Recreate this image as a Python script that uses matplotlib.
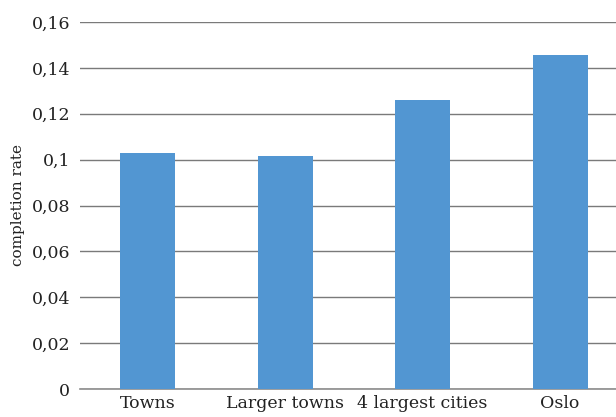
import matplotlib
matplotlib.use("Agg")
import matplotlib.pyplot as plt

categories = ["Towns", "Larger towns", "4 largest cities", "Oslo"]
values = [0.103, 0.1017, 0.126, 0.1456]
yticks = [0, 0.02, 0.04, 0.06, 0.08, 0.1, 0.12, 0.14, 0.16]
ytick_labels = ["0", "0,02", "0,04", "0,06", "0,08", "0,1", "0,12", "0,14", "0,16"]

W, H = 616, 417
fig = plt.figure(figsize=(W / 100, H / 100), dpi=100)
left_px, right_px, bottom_px, top_px = 80, 616, 389, 22
ax = fig.add_axes([left_px / W, (H - bottom_px) / H, (right_px - left_px) / W, (bottom_px - top_px) / H])

font = "DejaVu Serif"
x = list(range(len(categories)))
ax.bar(x, values, width=0.4, color="#5296D2", zorder=3)

step = 137.5
c0 = 147.5
ax.set_xlim(-(c0 - left_px) / step, (right_px - c0) / step)
ax.set_ylim(0, 0.16)
ax.set_yticks(yticks)
ax.set_yticklabels(ytick_labels, fontfamily=font, fontsize=12.5, color="#222222")
ax.set_xticks(x)
ax.set_xticklabels(categories, fontfamily=font, fontsize=12.5, color="#222222")
ax.tick_params(axis="both", length=0, pad=7)
ax.tick_params(axis="x", pad=4)
ax.grid(axis="y", color="#7a7a7a", linewidth=1.0, zorder=0)
ax.set_axisbelow(True)
for s in ["left", "right", "top"]:
    ax.spines[s].set_visible(False)
ax.spines["bottom"].set_color("#8c8c8c")
ax.spines["bottom"].set_linewidth(1.2)
ax.set_ylabel("completion rate", fontfamily=font, fontsize=11, color="#222222", labelpad=5)

fig.savefig("out.png", dpi=100)
